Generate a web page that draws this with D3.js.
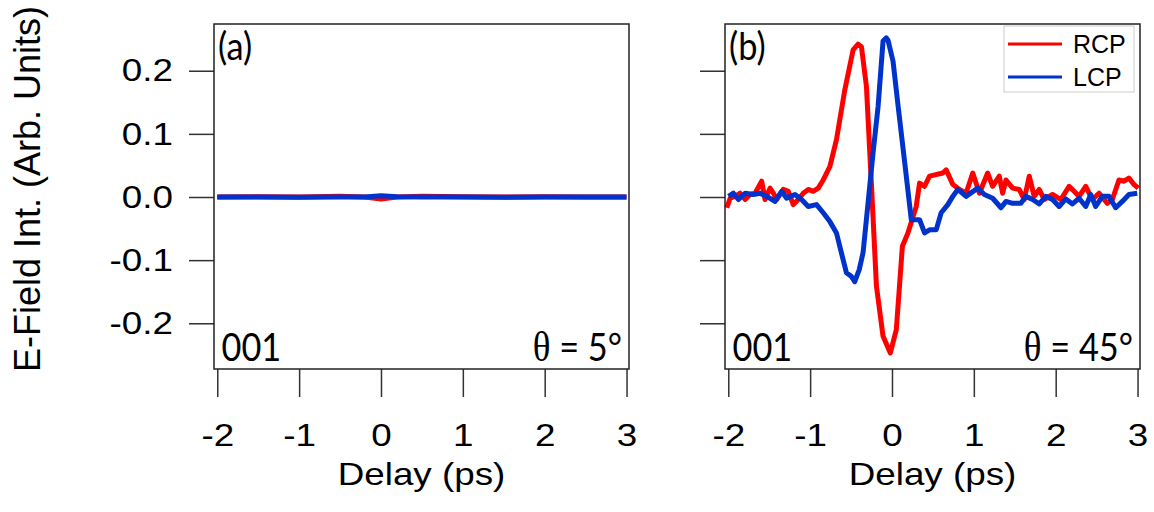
<!DOCTYPE html>
<html>
<head>
<meta charset="utf-8">
<script src="https://cdn.jsdelivr.net/npm/d3@7"></script>
<style>
  body { margin: 0; background: #fff; }
</style>
</head>
<body>
<svg id="chart" width="1154" height="512"></svg>
<script>
// --- data (delay in ps, field in arb. units) ---
const delayTicks = [-2, -1, 0, 1, 2, 3];
const fieldTicks = [-0.2, -0.1, 0.0, 0.1, 0.2];

// panel (a), theta = 5 deg : both helicities flat
const aRcp = [[-2,0],[-1.5,0.0005],[-1,0],[-0.5,0.001],[-0.2,0],[0,-0.003],[0.2,0],[0.5,0.001],[1,0.0005],[1.5,0],[2,0.0005],[2.5,0],[3,0]];
const aLcp = [[-2,0],[-1.5,0],[-1,-0.0005],[-0.5,0],[-0.2,0],[0,0.002],[0.2,0.0005],[0.5,0],[1,0],[1.5,-0.0005],[2,0],[2.5,0],[3,0]];

// panel (b), theta = 45 deg
const bRcp = [[-2.018,-0.017],[-1.977,-0.002],[-1.916,0.001],[-1.855,0.006],[-1.794,-0.004],[-1.734,0.004],[-1.673,0.006],
  [-1.592,0.025],[-1.551,-0.004],[-1.490,0.014],[-1.449,0.006],[-1.409,-0.004],[-1.328,0.012],[-1.267,0.009],[-1.206,-0.012],
  [-1.145,-0.004],[-1.084,0.006],[-1.023,0.012],[-0.962,0.009],[-0.901,0.014],[-0.840,0.027],[-0.759,0.048],[-0.678,0.091],
  [-0.576,0.170],[-0.475,0.233],[-0.414,0.242],[-0.373,0.238],[-0.312,0.175],[-0.250,0.017],[-0.190,-0.141],[-0.110,-0.220],
  [-0.020,-0.247],[0.053,-0.210],[0.127,-0.078],[0.195,-0.057],[0.296,-0.015],[0.337,0.022],[0.398,0.017],[0.459,0.033],
  [0.621,0.038],[0.662,0.043],[0.743,0.020],[0.824,0.012],[0.905,0.006],[0.987,0.038],[1.068,0.006],[1.169,0.038],[1.230,0.017],
  [1.311,0.033],[1.352,0.006],[1.393,0.027],[1.474,0.014],[1.555,0.012],[1.616,-0.004],[1.677,0.033],[1.738,0.001],[1.799,0.012],
  [1.860,-0.004],[1.961,0.004],[2.063,-0.004],[2.164,0.017],[2.225,0.009],[2.286,0.001],[2.367,0.017],[2.448,-0.004],[2.530,0.006],
  [2.631,-0.010],[2.692,-0.004],[2.773,0.027],[2.834,0.025],[2.895,0.030],[2.956,0.020],[3.009,0.014]];

const bLcp = [[-1.997,0.001],[-1.937,0.006],[-1.876,-0.004],[-1.794,0.006],[-1.693,0.004],[-1.612,0.006],[-1.490,-0.002],
  [-1.429,-0.007],[-1.348,0.009],[-1.287,-0.002],[-1.185,0.004],[-1.104,-0.004],[-1.023,-0.015],[-0.922,-0.012],[-0.840,-0.025],
  [-0.759,-0.039],[-0.678,-0.057],[-0.617,-0.089],[-0.556,-0.120],[-0.495,-0.126],[-0.455,-0.134],[-0.400,-0.115],[-0.353,-0.088],
  [-0.292,-0.009],[-0.231,0.070],[-0.170,0.143],[-0.109,0.247],[-0.069,0.252],[-0.048,0.248],[0.013,0.215],[0.074,0.145],
  [0.155,0.055],[0.236,-0.036],[0.337,-0.036],[0.398,-0.057],[0.459,-0.052],[0.540,-0.052],[0.601,-0.025],[0.682,-0.012],
  [0.743,0.001],[0.804,0.012],[0.905,0.001],[1.048,0.014],[1.129,0.004],[1.230,-0.002],[1.332,-0.017],[1.393,-0.007],
  [1.474,-0.010],[1.575,-0.010],[1.636,0.001],[1.718,-0.004],[1.799,-0.011],[1.880,0.001],[1.961,-0.004],[2.042,-0.015],
  [2.124,-0.003],[2.205,-0.011],[2.286,-0.002],[2.367,-0.015],[2.428,0.004],[2.489,-0.015],[2.570,0.001],[2.651,0.001],
  [2.733,-0.017],[2.814,-0.007],[2.895,0.004],[2.996,0.006]];

const seriesNames  = ["RCP", "LCP"];
const seriesColors = ["#ff0000", "#0033cc"];

// --- layout ---
const svg       = d3.select("#chart");
const frameTop  = 24, frameBottom = 369;
const panelW    = 415;
const stretchX  = 1.15;          // axis text in the figure is a bit wide
const noteX     = 0.88;          // panel notes are narrower (Calibri-like)
const axisFont  = "'Liberation Sans', Arial, sans-serif";
const noteFont  = "Lato, 'Open Sans', sans-serif";

const panels = [
  { left: 214, rcp: aRcp, lcp: aLcp, tag: "(a)", angle: "5°",  legend: false },
  { left: 725, rcp: bRcp, lcp: bLcp, tag: "(b)", angle: "45°", legend: true }
];

const y = d3.scaleLinear().domain([-0.274, 0.274]).range([frameBottom + 1, frameTop]);

function stretch(sel) {
  sel.each(function () {
    const t = d3.select(this);
    const x = +t.attr("x") || 0;
    t.attr("x", x / stretchX).attr("transform", `scale(${stretchX},1)`);
  });
}

function note(px, py, anchor) {
  return svg.append("g").attr("transform", `translate(${px},${py}) scale(${noteX},1)`)
    .append("text").attr("text-anchor", anchor)
    .attr("font-family", noteFont).attr("font-size", 39);
}

panels.forEach(p => {
  const x = d3.scaleLinear().domain([-2.04, 3.03]).range([p.left, p.left + panelW]);

  // y axis (ticks outside)
  const gy = svg.append("g")
    .attr("transform", `translate(${p.left},0)`)
    .call(d3.axisLeft(y).tickValues(fieldTicks).tickSize(25).tickPadding(16).tickFormat(d3.format(".1f")));
  gy.select(".domain").remove();
  gy.selectAll("line").attr("stroke", "#333").attr("stroke-width", 1.5);
  if (p.legend) {
    gy.selectAll("text").remove();
  } else {
    gy.selectAll("text").attr("font-family", axisFont).attr("font-size", 32).attr("fill", "#000")
      .text(d => d3.format(".1f")(d).replace("−", "-"));
    stretch(gy.selectAll("text"));
  }

  // x axis
  const gx = svg.append("g")
    .attr("transform", `translate(0,${frameBottom})`)
    .call(d3.axisBottom(x).tickValues(delayTicks).tickSize(28).tickPadding(26).tickFormat(d => String(d)));
  gx.select(".domain").remove();
  gx.selectAll("line").attr("stroke", "#333").attr("stroke-width", 1.5);
  gx.selectAll("text").attr("font-family", axisFont).attr("font-size", 32).attr("fill", "#000");
  stretch(gx.selectAll("text"));

  const title = svg.append("g").attr("transform", `translate(${p.left + panelW / 2},485)`);
  title.append("text")
    .attr("text-anchor", "middle")
    .attr("font-family", axisFont).attr("font-size", 32)
    .attr("transform", `scale(${stretchX},1)`)
    .text("Delay (ps)");

  // curves
  const line = d3.line().x(d => x(d[0])).y(d => y(d[1]));
  [p.rcp, p.lcp].forEach((data, i) => {
    svg.append("path")
      .datum(data)
      .attr("d", line)
      .attr("fill", "none")
      .attr("stroke", seriesColors[i])
      .attr("stroke-width", 5)
      .attr("stroke-linejoin", "round")
      .attr("stroke-linecap", "butt");
  });

  // frame
  svg.append("rect")
    .attr("x", p.left).attr("y", frameTop)
    .attr("width", panelW).attr("height", frameBottom - frameTop)
    .attr("fill", "none").attr("stroke", "#222").attr("stroke-width", 1.5);

  // annotations
  note(p.left + 4, 60, "start").text(p.tag);
  note(p.left + 7.5, 361, "start").text("001");
  const th = note(p.left + panelW - 7, 361, "end");
  th.append("tspan").attr("font-family", "'Liberation Serif', 'DejaVu Serif', serif").attr("font-size", 42).text("θ");
  th.append("tspan").text(" = " + p.angle);

  // legend
  if (p.legend) {
    const lg = svg.append("g").attr("transform", "translate(1004,26)");
    lg.append("rect").attr("width", 130).attr("height", 66)
      .attr("fill", "#fff").attr("stroke", "#ccc").attr("stroke-width", 1);
    seriesNames.forEach((name, i) => {
      const yy = 18 + i * 33;
      lg.append("line").attr("x1", 4).attr("x2", 58).attr("y1", yy).attr("y2", yy)
        .attr("stroke", seriesColors[i]).attr("stroke-width", 3);
      lg.append("text").attr("x", 69).attr("y", yy + 9)
        .attr("font-family", axisFont).attr("font-size", 25).text(name);
    });
  }
});

// shared y label
svg.append("text")
  .attr("transform", "translate(40,189) rotate(-90)")
  .attr("text-anchor", "middle")
  .attr("font-family", axisFont).attr("font-size", 36)
  .text("E-Field Int. (Arb. Units)");
</script>
</body>
</html>
